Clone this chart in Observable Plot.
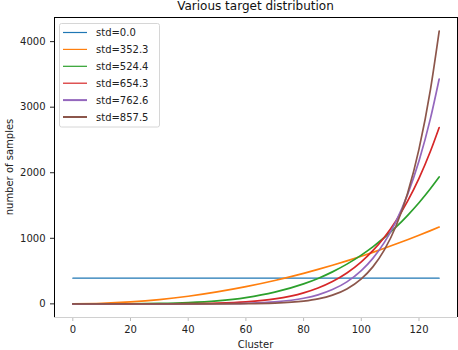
<!DOCTYPE html>
<html>
<head>
<meta charset="utf-8">
<script src="https://cdn.jsdelivr.net/npm/d3@7"></script>
<script src="https://cdn.jsdelivr.net/npm/@observablehq/plot@0.6"></script>
<style>
  html, body { margin: 0; padding: 0; background: #fff; }
  #chart svg { display: block; }
</style>
</head>
<body>
<div id="chart"></div>
<script>
const title = "Various target distribution";
const xLabel = "Cluster";
const yLabel = "number of samples";
const xTicks = [0, 20, 40, 60, 80, 100, 120];
const yTicks = [0, 1000, 2000, 3000, 4000];

const clusters = [0, 10, 20, 30, 40, 50, 60, 70, 80, 85, 90, 95, 100, 104, 108, 112, 116, 120, 124, 127];
const seriesNames = ["std=0.0", "std=352.3", "std=524.4", "std=654.3", "std=762.6", "std=857.5"];
const colors = ["#1f77b4", "#ff7f0e", "#2ca02c", "#d62728", "#9467bd", "#8c564b"];

const std0   = [392, 392, 392, 392, 392, 392, 392, 392, 392, 392, 392, 392, 392, 392, 392, 392, 392, 392, 392, 392];
const std352 = [0, 7, 29, 65, 116, 182, 262, 356, 465, 525, 589, 656, 727, 786, 848, 912, 978, 1046, 1117, 1172];
const std524 = [0, 0, 1, 6, 19, 46, 96, 179, 305, 388, 488, 606, 744, 870, 1012, 1170, 1347, 1542, 1759, 1935];
const std654 = [0, 0, 0, 0.5, 2.6, 10, 30, 75, 168, 242, 341, 471, 641, 811, 1017, 1265, 1562, 1914, 2331, 2690];
const std763 = [0, 0, 0, 0, 0.3, 2, 8.5, 29, 85, 138, 218, 336, 507, 694, 938, 1255, 1662, 2179, 2833, 3430];
const std858 = [0, 0, 0, 0, 0, 0.4, 2.3, 11, 41, 75, 133, 228, 381, 564, 823, 1184, 1681, 2360, 3276, 4160];

const allSeries = [std0, std352, std524, std654, std763, std858];
const rows = allSeries.flatMap((vals, s) =>
  vals.map((v, i) => ({ series: seriesNames[s], cluster: clusters[i], value: v }))
);

const W = 458, H = 350;
const mL = 54, mR = 1, mT = 17, mB = 33;
const font = "DejaVu Sans, Liberation Sans, sans-serif";

const chart = Plot.plot({
  width: W,
  height: H,
  marginLeft: mL,
  marginRight: mR,
  marginTop: mT,
  marginBottom: mB,
  style: { fontFamily: font, fontSize: "10px", background: "white", color: "#222" },
  x: { domain: [-6.35, 133.35] },
  y: { domain: [-208, 4368] },
  color: { domain: seriesNames, range: colors },
  marks: [
    Plot.axisX({ ticks: xTicks, tickSize: 4, tickPadding: 4, label: null, stroke: "#bbb", fill: "#222", fontSize: 10 }),
    Plot.axisY({ ticks: yTicks, tickSize: 4, tickPadding: 5, label: null, tickFormat: d3.format("d"), fill: "#222", fontSize: 10 }),
    ...seriesNames.map((name, s) =>
      Plot.line(rows.filter(r => r.series === name), {
        x: "cluster",
        y: "value",
        stroke: "series",
        strokeWidth: s === 0 ? 1.2 : 1.7,
        curve: "monotone-x"
      })
    )
  ]
});

document.getElementById("chart").appendChild(chart);

const svg = d3.select(chart);
const xs = chart.scale("x"), ys = chart.scale("y");
const x0 = xs.apply(xs.domain[0]), x1 = xs.apply(xs.domain[1]);
const y0 = ys.apply(ys.domain[0]), y1 = ys.apply(ys.domain[1]);

// spines
const sp = svg.append("g").attr("shape-rendering", "crispEdges");
sp.append("line").attr("x1", x0).attr("x2", x1).attr("y1", y0).attr("y2", y0).attr("stroke", "#d0d0d0");
sp.append("line").attr("x1", x0).attr("x2", x0).attr("y1", y1).attr("y2", y0).attr("stroke", "#000");
sp.append("line").attr("x1", x0).attr("x2", x1).attr("y1", y1).attr("y2", y1).attr("stroke", "#000");
sp.append("line").attr("x1", x1).attr("x2", x1).attr("y1", y1).attr("y2", y0).attr("stroke", "#000");

// title
svg.append("text")
  .attr("x", (x0 + x1) / 2).attr("y", 9.5)
  .attr("text-anchor", "middle")
  .attr("font-family", font).attr("font-size", 12).attr("fill", "#111")
  .text(title);

// axis labels
svg.append("text")
  .attr("x", (x0 + x1) / 2).attr("y", 348)
  .attr("text-anchor", "middle")
  .attr("font-family", font).attr("font-size", 10).attr("fill", "#222")
  .text(xLabel);
svg.append("text")
  .attr("transform", `translate(12.5,${(y0 + y1) / 2}) rotate(-90)`)
  .attr("text-anchor", "middle")
  .attr("font-family", font).attr("font-size", 10).attr("fill", "#222")
  .text(yLabel);

// legend
const lg = svg.append("g");
lg.append("rect")
  .attr("x", 59.5).attr("y", 23.5).attr("width", 100).attr("height", 103.5)
  .attr("rx", 2).attr("fill", "white").attr("fill-opacity", 0.85)
  .attr("stroke", "#d6d6d6");
seriesNames.forEach((name, i) => {
  const cy = 32.5 + i * 16.9;
  lg.append("line")
    .attr("x1", 63).attr("x2", 87).attr("y1", cy).attr("y2", cy)
    .attr("stroke", colors[i]).attr("stroke-width", i >= 4 ? 2 : 1.2);
  lg.append("text")
    .attr("x", 96).attr("y", cy).attr("dy", "0.35em")
    .attr("text-anchor", "start")
    .attr("font-family", font).attr("font-size", 10).attr("fill", "#222")
    .text(name);
});
</script>
</body>
</html>
